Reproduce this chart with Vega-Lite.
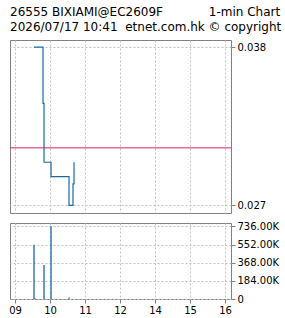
{
  "$schema": "https://vega.github.io/schema/vega-lite/v6.json",
  "padding": {"left": 8, "top": 5, "right": 0, "bottom": 0},
  "background": "white",
  "title": {
    "text": ["26555 BIXIAMI@EC2609F\u00a0\u00a0\u00a0\u00a0\u00a0\u00a0\u00a0\u00a0\u00a0\u00a0\u00a0\u00a01-min Chart", "2026/07/17 10:41\u00a0\u00a0etnet.com.hk\u00a0©\u00a0copyright"],
    "anchor": "start",
    "frame": "group",
    "font": "DejaVu Sans",
    "fontSize": 12,
    "fontWeight": "normal",
    "lineHeight": 15,
    "offset": 6,
    "color": "black"
  },
  "config": {
    "view": {"stroke": "#808080", "strokeWidth": 1},
    "axis": {
      "labelFont": "DejaVu Sans",
      "labelFontSize": 10,
      "labelColor": "black",
      "gridColor": "#c0c0c0",
      "gridDash": [2, 2],
      "gridWidth": 1,
      "tickColor": "#808080",
      "domain": false,
      "title": null
    }
  },
  "spacing": 6,
  "vconcat": [
    {
      "width": 221,
      "height": 173,
      "layer": [
        {
          "data": {"values": [{"p": 0.031}]},
          "mark": {"type": "rule", "color": "#d41f6e", "strokeWidth": 1},
          "encoding": {"y": {"field": "p", "type": "quantitative"}}
        },
        {
          "data": {"values": [
            {"i": 1, "t": 0.543, "p": 0.038},
            {"i": 2, "t": 0.8, "p": 0.038},
            {"i": 3, "t": 0.8, "p": 0.0341},
            {"i": 4, "t": 0.829, "p": 0.0341},
            {"i": 5, "t": 0.829, "p": 0.030},
            {"i": 6, "t": 1.029, "p": 0.030},
            {"i": 7, "t": 1.029, "p": 0.029},
            {"i": 8, "t": 1.543, "p": 0.029},
            {"i": 9, "t": 1.543, "p": 0.027},
            {"i": 10, "t": 1.657, "p": 0.027},
            {"i": 11, "t": 1.657, "p": 0.0285},
            {"i": 12, "t": 1.686, "p": 0.0285},
            {"i": 13, "t": 1.686, "p": 0.030}
          ]},
          "mark": {"type": "line", "color": "#1a6aa6", "strokeWidth": 1.2},
          "encoding": {
            "x": {
              "field": "t", "type": "quantitative",
              "scale": {"domain": [-0.143, 6.171], "nice": false, "zero": false},
              "axis": {"values": [0, 1, 2, 3, 4, 5, 6], "labels": false, "ticks": false, "grid": true}
            },
            "y": {
              "field": "p", "type": "quantitative",
              "scale": {"domain": [0.02647, 0.0385], "nice": false, "zero": false},
              "axis": {"orient": "right", "values": [0.027, 0.038], "format": ".3f", "tickSize": 4, "labelPadding": 2, "grid": true}
            },
            "order": {"field": "i", "type": "quantitative"}
          }
        }
      ]
    },
    {
      "width": 221,
      "height": 76,
      "data": {"values": [
        {"t": 0.543, "v": 550000},
        {"t": 0.571, "v": 8000},
        {"t": 0.829, "v": 344000},
        {"t": 1.029, "v": 736000},
        {"t": 1.543, "v": 15000}
      ]},
      "mark": {"type": "rule", "color": "#1a6aa6", "strokeWidth": 1.3},
      "encoding": {
        "x": {
          "field": "t", "type": "quantitative",
          "scale": {"domain": [-0.143, 6.171], "nice": false, "zero": false},
          "axis": {
            "values": [0, 1, 2, 3, 4, 5, 6],
            "labelExpr": "['09','10','11','12','14','15','16'][datum.value]",
            "tickSize": 4, "labelPadding": 2, "grid": true
          }
        },
        "y": {
          "field": "v", "type": "quantitative",
          "scale": {"domain": [0, 770000], "nice": false},
          "axis": {
            "orient": "right",
            "values": [0, 184000, 368000, 552000, 736000],
            "labelExpr": "datum.value == 0 ? '0' : format(datum.value / 1000, '.2f') + 'K'",
            "tickSize": 4, "labelPadding": 2, "grid": true
          }
        },
        "y2": {"datum": 0}
      }
    }
  ]
}
